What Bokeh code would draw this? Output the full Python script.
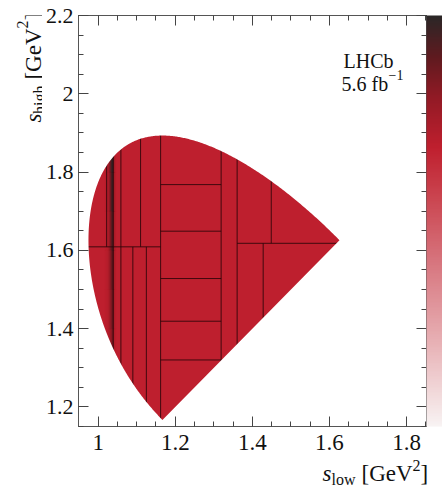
import numpy as np
from bokeh.plotting import figure
from bokeh.layouts import row, column
from bokeh.models import (LinearAxis, FixedTicker, CustomJSTickFormatter, Label,
                          LinearColorMapper, ColorBar, ColumnDataSource, Range1d)
from bokeh.transform import transform
from bokeh.embed import file_html
from bokeh.resources import INLINE

# ---------------- data ----------------
# kinematics of D+ -> K- K+ K+ (GeV)
M_MOTHER = 1.86966
M_KAON = 0.493677

# adaptive bin boundaries: vertical segments (x, y_from, y_to)
v_x  = [1.022, 1.039, 1.059, 1.110, 1.039, 1.059, 1.090, 1.125, 1.162, 1.319, 1.3605, 1.449, 1.428]
v_y0 = [1.609, 1.609, 1.609, 1.609, 1.000, 1.000, 1.000, 1.000, 1.000, 1.000, 1.000, 1.618, 1.000]
v_y1 = [2.000, 2.000, 2.000, 2.000, 1.609, 1.609, 1.609, 1.609, 2.000, 2.000, 2.000, 2.000, 1.618]
# horizontal segments (y, x_from, x_to)
h_y  = [1.609, 1.768, 1.649, 1.528, 1.419, 1.320, 1.618]
h_x0 = [0.900, 1.162, 1.162, 1.162, 1.162, 1.162, 1.3605]
h_x1 = [1.162, 1.319, 1.319, 1.319, 1.319, 1.319, 1.800]

# density: flat level plus phi(1020) band
base_level = 0.68
phi_x_edges = [1.018, 1.023, 1.027, 1.030, 1.033, 1.036, 1.0385, 1.0405, 1.043, 1.046]
phi_y_edges = [1.30, 1.40, 1.50, 1.60, 1.70, 1.80, 1.95]
phi_vals = [
    [0.69, 0.70, 0.72, 0.75, 0.80, 0.84, 0.84, 0.74, 0.69],
    [0.69, 0.70, 0.73, 0.77, 0.83, 0.87, 0.87, 0.76, 0.69],
    [0.69, 0.71, 0.74, 0.79, 0.86, 0.90, 0.90, 0.77, 0.70],
    [0.69, 0.71, 0.75, 0.81, 0.89, 0.94, 0.93, 0.78, 0.70],
    [0.70, 0.72, 0.76, 0.83, 0.92, 0.97, 0.96, 0.80, 0.70],
    [0.70, 0.72, 0.77, 0.85, 0.94, 0.99, 0.98, 0.81, 0.70],
]

x_ticks = [1.0, 1.2, 1.4, 1.6, 1.8]
y_ticks = [1.2, 1.4, 1.6, 1.8, 2.0, 2.2]
cb_ticks = [0.12, 0.40, 0.68, 0.98]

# ---------------- geometry of the phase space ----------------
def s_high_limits(s_low):
    m, M = M_KAON, M_MOTHER
    rs = np.sqrt(s_low)
    e2 = rs / 2.0
    e3 = (M**2 - s_low - m**2) / (2.0 * rs)
    p2 = np.sqrt(np.clip(e2**2 - m**2, 0, None))
    p3 = np.sqrt(np.clip(e3**2 - m**2, 0, None))
    return (e2 + e3)**2 - (p2 + p3)**2, (e2 + e3)**2 - (p2 - p3)**2

x0 = 4 * M_KAON**2
x_tip = (M_MOTHER**2 - M_KAON**2) / 2.0
x_bot = (M_MOTHER**2 + 3 * M_KAON**2 - (M_MOTHER - M_KAON)**2) / 2.0
u = np.linspace(0, 1, 300)
xu = x0 + (x_tip - x0) * u**2
_, yu = s_high_limits(xu)
xl = x0 + (x_bot - x0) * u[::-1]**2
yl, _ = s_high_limits(xl)
region_x = list(xu) + [x_tip, x_bot] + list(xl)
region_y = list(yu) + [x_tip, x_bot] + list(yl)

# ---------------- colours ----------------
anchors = [(0.00, "#f8f3f3"), (0.20, "#e8b2b6"), (0.40, "#d7757e"), (0.55, "#cb4752"),
           (0.68, "#bf1f2e"), (0.80, "#921a25"), (0.90, "#5f1a1f"), (1.00, "#2b2727")]
def _rgb(h):
    return np.array([int(h[i:i + 2], 16) for i in (1, 3, 5)], float)
palette = []
for t in np.linspace(0, 1, 256):
    for (a, ca), (b, cb) in zip(anchors[:-1], anchors[1:]):
        if a <= t <= b:
            f = (t - a) / (b - a)
            c = _rgb(ca) * (1 - f) + _rgb(cb) * f
            palette.append("#%02x%02x%02x" % tuple(int(round(v)) for v in c))
            break
mapper = LinearColorMapper(palette=palette, low=0.0, high=1.0)

SERIF = "Liberation Serif"
INK = "#111111"
W_Y = 42          # width of the strip holding the vertical title
H_MAIN = 458      # height of the upper row (x title strip below)

# ---------------- main figure ----------------
p = figure(width=400, height=H_MAIN, output_backend="svg", toolbar_location=None,
           title=None,
           x_range=Range1d(0.949, 1.8517), y_range=Range1d(1.15, 2.2),
           min_border_left=28, min_border_right=0, min_border_top=15,
           min_border_bottom=H_MAIN - 426,
           background_fill_color="#ffffff", border_fill_color="#ffffff")
p.xgrid.visible = False
p.ygrid.visible = False
p.outline_line_color = "#555555"

# base fill
p.quad(left="l", right="r", bottom="b", top="t",
       fill_color=transform("v", mapper), line_color=None,
       source=ColumnDataSource(dict(l=[0.95], r=[1.65], b=[1.15], t=[1.95], v=[base_level])))
# phi band
ql, qr, qb, qt, qv = [], [], [], [], []
for i in range(len(phi_y_edges) - 1):
    for j in range(len(phi_x_edges) - 1):
        ql.append(phi_x_edges[j]); qr.append(phi_x_edges[j + 1])
        qb.append(phi_y_edges[i]); qt.append(phi_y_edges[i + 1])
        qv.append(phi_vals[i][j])
p.quad(left="l", right="r", bottom="b", top="t",
       fill_color=transform("v", mapper), line_color=transform("v", mapper), line_width=0.6,
       source=ColumnDataSource(dict(l=ql, r=qr, b=qb, t=qt, v=qv)))

# bin boundaries
p.segment(x0=v_x, y0=v_y0, x1=v_x, y1=v_y1, line_color="#2a0508", line_width=1, line_alpha=0.85)
p.segment(x0=h_x0, y0=h_y, x1=h_x1, y1=h_y, line_color="#2a0508", line_width=1, line_alpha=0.85)

# mask outside the phase space
outer_x = [0.80, 2.00, 2.00, 0.80]
outer_y = [1.00, 1.00, 2.40, 2.40]
p.multi_polygons(xs=[[[outer_x, region_x]]], ys=[[[outer_y, region_y]]],
                 fill_color="#ffffff", line_color=None)

# axes
fmt = CustomJSTickFormatter(code="return (Math.round(tick*10)/10).toString();")
blank = CustomJSTickFormatter(code="return '';")
xt = FixedTicker(ticks=x_ticks, minor_ticks=list(np.round(np.arange(0.95, 1.851, 0.05), 3)))
yt = FixedTicker(ticks=y_ticks, minor_ticks=list(np.round(np.arange(1.15, 2.201, 0.05), 3)))

def style(ax, ticker, formatter, size, standoff):
    ax.ticker = ticker
    ax.formatter = formatter
    ax.axis_line_color = "#555555"
    ax.major_tick_line_color = "#444444"
    ax.minor_tick_line_color = "#444444"
    ax.major_tick_in = 10
    ax.major_tick_out = 0
    ax.minor_tick_in = 5
    ax.minor_tick_out = 0
    ax.major_label_text_font = SERIF
    ax.major_label_text_color = INK
    ax.major_label_text_font_size = size
    ax.major_label_standoff = standoff

style(p.xaxis[0], xt, fmt, "23px", 8)
style(p.yaxis[0], yt, fmt, "22px", 5)
top_ax = LinearAxis(); style(top_ax, xt, blank, "0px", 0)
right_ax = LinearAxis(); style(right_ax, yt, blank, "0px", 0)
p.add_layout(top_ax, "above")
p.add_layout(right_ax, "right")

cbar = ColorBar(color_mapper=mapper, width=16, padding=0, margin=2,
                ticker=FixedTicker(ticks=cb_ticks), formatter=blank,
                major_label_text_font_size="0px", label_standoff=0,
                major_tick_line_color=None, minor_tick_line_color=None,
                bar_line_color=None, border_line_color=None, background_fill_alpha=0)
p.add_layout(cbar, "right")

def lab(fig, text, x, y, size, italic=False, align="left", angle=0.0):
    fig.add_layout(Label(x=x, y=y, x_units="screen", y_units="screen", text=text,
                         text_font=SERIF, text_font_size=size, text_color=INK,
                         text_font_style="italic" if italic else "normal",
                         text_align=align, text_baseline="alphabetic", angle=angle))

# experiment label (frame left=74, bottom=426 in page pixels)
lab(p, "LHCb", 339 - 74, 426 - 60, "20px")
lab(p, "5.6 fb", 337 - 74, 426 - 83, "20px")
lab(p, "\u22121", 384 - 74, 426 - 74, "14px")

# ---------------- title strips ----------------
def strip(w, h):
    f = figure(width=w, height=h, output_backend="svg", toolbar_location=None, title=None,
               x_axis_location=None, y_axis_location=None,
               min_border=0, min_border_left=0, min_border_right=0,
               min_border_top=0, min_border_bottom=0,
               x_range=Range1d(0, 1), y_range=Range1d(0, 1),
               background_fill_color="#ffffff", border_fill_color="#ffffff")
    f.outline_line_color = None
    f.grid.visible = False
    return f

# y title strip (its frame lines up with the main frame, bottom at page y ~427)
YB = 427
py = strip(W_Y, H_MAIN)
A = np.pi / 2
lab(py, "]", 33, YB - 13, "23px", align="right", angle=A)
lab(py, "2", 22, YB - 21, "16px", align="right", angle=A)
lab(py, "[GeV", 33, YB - 29, "23px", align="right", angle=A)
lab(py, "high", 38.5, YB - 86, "16px", align="right", angle=A)
lab(py, "s", 33, YB - 114, "23px", italic=True, align="right", angle=A)

# x title strip (frame bottom at page y ~489)
XB = 489
px = strip(446, 485 - H_MAIN)
lab(px, "s", 322, XB - 477, "23px", italic=True)
lab(px, "low", 331, XB - 483, "16px")
lab(px, "[GeV", 361, XB - 477, "23px")
lab(px, "2", 412, XB - 469, "16px")
lab(px, "]", 420, XB - 477, "23px")

layout = column(row(py, p, spacing=0), px, spacing=0)
open("out.html", "w").write(file_html(layout, INLINE))
